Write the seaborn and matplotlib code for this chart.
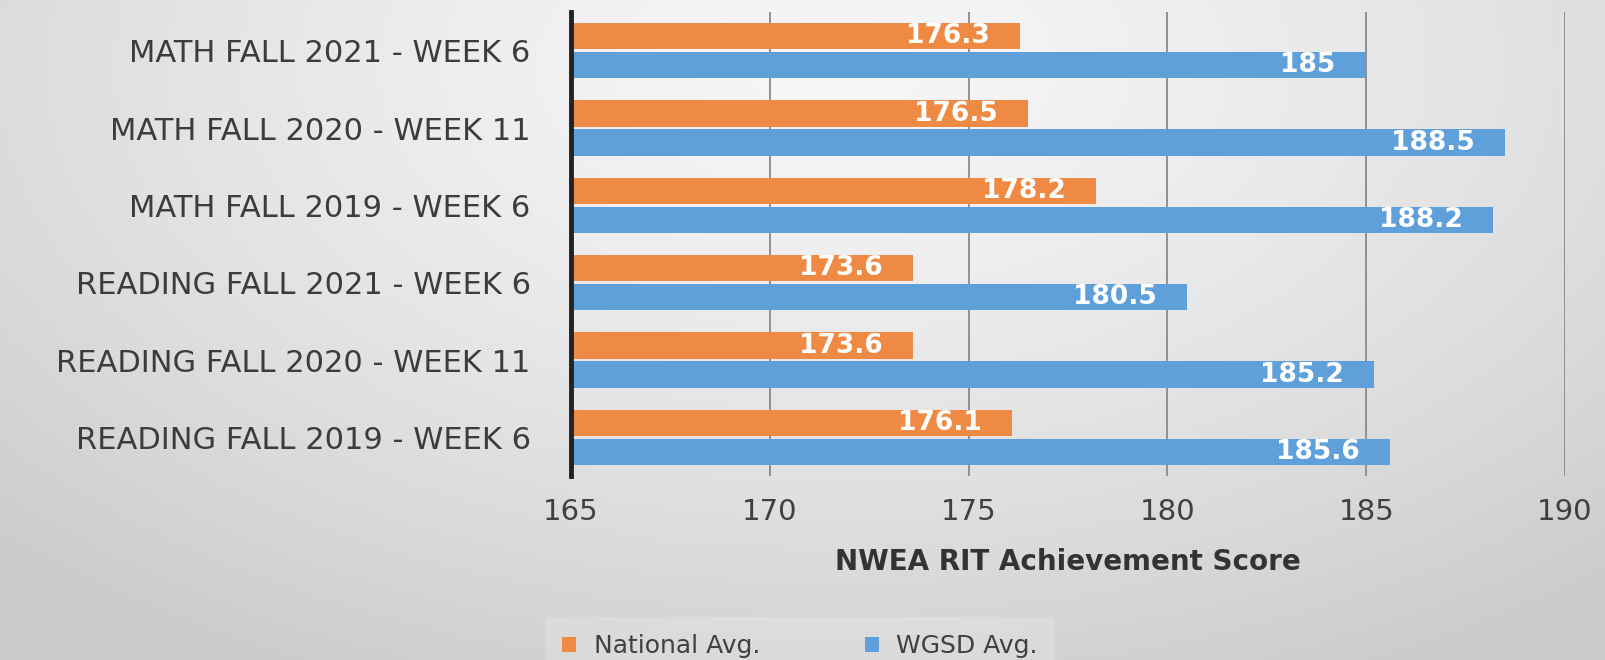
import numpy as np
import pandas as pd
import matplotlib
matplotlib.use("Agg")
import matplotlib.pyplot as plt
import seaborn as sns

categories = ["MATH FALL 2021 - WEEK 6", "MATH FALL 2020 - WEEK 11", "MATH FALL 2019 - WEEK 6",
              "READING FALL 2021 - WEEK 6", "READING FALL 2020 - WEEK 11", "READING FALL 2019 - WEEK 6"]
series_names = ["National Avg.", "WGSD Avg."]
national = [176.3, 176.5, 178.2, 173.6, 173.6, 176.1]
wgsd = [185, 188.5, 188.2, 180.5, 185.2, 185.6]
xticks = [165, 170, 175, 180, 185, 190]
xlabel = "NWEA RIT Achievement Score"

df = pd.DataFrame({
    "category": categories * 2,
    "series": [series_names[0]] * len(categories) + [series_names[1]] * len(categories),
    "value": national + wgsd,
})

sns.set_theme(style="white")
plt.rcParams["font.family"] = ["DejaVu Sans"]

W, H = 1606, 660
fig = plt.figure(figsize=(W / 100, H / 100), dpi=100)

# gradient background
bg = fig.add_axes([0, 0, 1, 1], zorder=-10)
yy, xx = np.mgrid[0:1:200j, 0:1:400j]
r = np.sqrt(((xx - 0.52) / 0.75) ** 2 + ((yy - 0.1) / 1.05) ** 2)
g = np.clip(0.965 - 0.17 * r ** 1.4, 0.80, 0.97)
bg.imshow(np.dstack([g, g, g]), aspect="auto", extent=[0, 1, 1, 0])
bg.set_axis_off()

ax = fig.add_axes([571 / W, 1 - 476 / H, (1565 - 571) / W, (476 - 12) / H])
ax.set_facecolor("none")

colors = ["#EF8A45", "#5F9FDA"]
sns.barplot(data=df, y="category", x="value", hue="series", orient="h",
            palette=colors, width=0.75, gap=0.1, ax=ax, saturation=1, linewidth=0)

ax.set_xlim(165, 190)
ax.set_ylim(5.5, -0.5)
ax.set_xticks(xticks)
ax.set_xticklabels([str(t) for t in xticks])
ax.set_xlabel(xlabel, fontsize=20, fontweight="bold", color="#333333", labelpad=16)
ax.set_ylabel("")

ax.tick_params(axis="y", labelsize=22, colors="#3c3c3c", length=0, pad=29)
ax.tick_params(axis="x", labelsize=21, colors="#404040", length=0, pad=16)

ax.grid(axis="x", color="#8a8a8a", linewidth=1.3)
ax.set_axisbelow(True)
for s in ["top", "right", "bottom"]:
    ax.spines[s].set_visible(False)
ax.spines["left"].set_color("#222222")
ax.spines["left"].set_linewidth(3.5)
ax.spines["left"].set_zorder(5)

for cont in ax.containers:
    texts = ax.bar_label(cont, fmt=lambda v: f"{v:g}", padding=-22, color="white",
                         fontsize=19, fontweight="bold")
    for t in texts:
        t.set_ha("right")

sns.move_legend(ax, "center", bbox_to_anchor=(800 / W, 1 - 646 / H),
                bbox_transform=fig.transFigure, ncol=2, title=None, frameon=True,
                fontsize=18, handlelength=0.55, handleheight=0.55, handletextpad=0.7,
                columnspacing=4.2, borderpad=0.7)
leg = ax.get_legend()
leg.get_frame().set_facecolor("white")
leg.get_frame().set_alpha(0.18)
leg.get_frame().set_edgecolor("none")
for t in leg.get_texts():
    t.set_color("#404040")

fig.savefig("out.png", dpi=100)
